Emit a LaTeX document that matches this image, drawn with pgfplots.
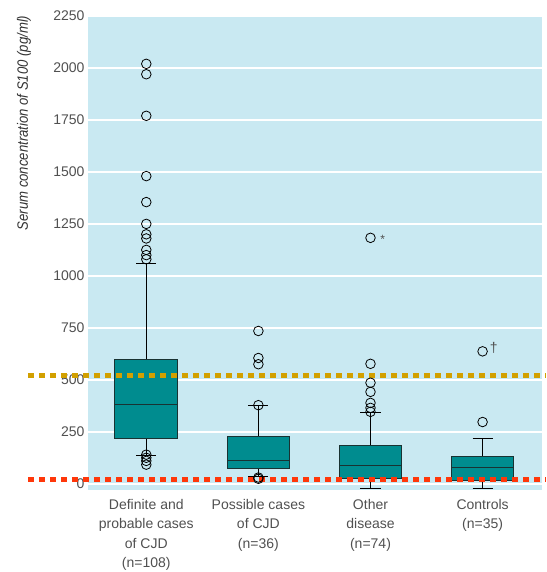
\documentclass[border=0pt]{standalone}
\usepackage{fontspec}
\setmainfont{Liberation Sans}
\newfontfamily\ylabfont[FakeStretch=0.875]{Liberation Sans}
\usepackage{pgfplots}
\pgfplotsset{compat=1.18}
\definecolor{bgblue}{RGB}{201,233,242}
\definecolor{boxteal}{RGB}{0,140,143}
\definecolor{goldline}{RGB}{210,160,0}
\definecolor{redline}{RGB}{255,55,10}
\definecolor{txtgray}{RGB}{80,80,80}
\definecolor{boxedge}{RGB}{25,50,50}
\pgfplotsset{
  mybox/.style={draw=boxedge, line width=1pt, fill=boxteal, mark=none},
  mywhisk/.style={draw=black, line width=1pt, mark=none, unbounded coords=jump},
  myout/.style={only marks, mark=o, mark size=4.8pt, mark options={fill=white, draw=black, line width=0.8pt}},
}
\begin{document}
\begin{tikzpicture}
\useasboundingbox (-88pt,-82pt) rectangle (458pt,490pt);
\begin{axis}[at={(0pt,0pt)}, anchor=south west, scale only axis,
  width=454pt, height=475pt,
  xmin=0.48, xmax=4.53, ymin=-30, ymax=2255,
  axis background/.style={fill=bgblue},
  axis line style={draw=none},
  major tick length=0pt,
  ytick={0,250,...,2250},
  ymajorgrids, grid style={white, line width=2pt},
  xtick={1,2,3,4},
  xticklabels={{Definite and\\probable cases\\of CJD\\(n=108)},{Possible cases\\of CJD\\(n=36)},{Other\\disease\\(n=74)},{Controls\\(n=35)}},
  tick label style={font=\fontsize{14}{19.3}\selectfont, text=txtgray},
  xticklabel style={align=center, yshift=-6pt},
  /pgf/number format/assume math mode=true,
  /pgf/number format/1000 sep={},
  ylabel={Serum concentration of S100 (pg/ml)},
  ylabel style={font=\ylabfont\itshape\fontsize{15}{17}\selectfont, text=black!80, at={(axis description cs:-0.141,1.006)}, anchor=east},
  clip=false,
]
% whiskers and caps
\addplot[mywhisk] coordinates {(1,600) (1,1060) (1,nan) (0.91,1060) (1.09,1060) (1,nan) (1,216) (1,135) (1,nan) (0.91,135) (1.09,135)};
\addplot[mywhisk] coordinates {(2,228) (2,375) (2,nan) (1.91,375) (2.09,375) (2,nan) (2,75) (2,35) (2,nan) (1.91,35) (2.09,35)};
\addplot[mywhisk] coordinates {(3,185) (3,341) (3,nan) (2.91,341) (3.09,341) (3,nan) (3,26) (3,-25) (3,nan) (2.91,-25) (3.09,-25)};
\addplot[mywhisk] coordinates {(4,132) (4,216) (4,nan) (3.91,216) (4.09,216) (4,nan) (4,16) (4,-25) (4,nan) (3.91,-25) (4.09,-25)};
% boxes (lower quartile to upper quartile)
\addplot[mybox] coordinates {(0.72,216) (1.28,216) (1.28,600) (0.72,600) (0.72,216)};
\addplot[mybox] coordinates {(1.72,75) (2.28,75) (2.28,228) (1.72,228) (1.72,75)};
\addplot[mybox] coordinates {(2.72,26) (3.28,26) (3.28,185) (2.72,185) (2.72,26)};
\addplot[mybox] coordinates {(3.72,16) (4.28,16) (4.28,132) (3.72,132) (3.72,16)};
% medians
\addplot[mywhisk, draw=boxedge] coordinates {(0.72,380) (1.28,380)};
\addplot[mywhisk, draw=boxedge] coordinates {(1.72,112) (2.28,112)};
\addplot[mywhisk, draw=boxedge] coordinates {(2.72,90) (3.28,90)};
\addplot[mywhisk, draw=boxedge] coordinates {(3.72,80) (4.28,80)};
% outliers
\addplot[myout] coordinates {(1,2020) (1,1970) (1,1770) (1,1480) (1,1355) (1,1250) (1,1200) (1,1180) (1,1125) (1,1100) (1,1080) (1,140) (1,125) (1,110) (1,92)};
\addplot[myout] coordinates {(2,735) (2,605) (2,575) (2,378) (2,30) (2,24)};
\addplot[myout] coordinates {(3,1183) (3,577) (3,486) (3,442) (3,389) (3,365) (3,346)};
\addplot[myout] coordinates {(4,637) (4,297)};
% reference lines
\addplot[goldline, line width=5pt, dash pattern=on 5.5pt off 5.5pt] coordinates {(-0.055,520) (4.566,520)};
\addplot[redline, line width=5pt, dash pattern=on 5.5pt off 5.5pt] coordinates {(-0.055,20) (4.566,20)};
\node[font=\fontsize{12}{12}\selectfont, text=txtgray] at (axis cs:3.11,1175) {*};
\node[font=\fontsize{14}{14}\selectfont, text=txtgray] at (axis cs:4.1,655) {†};
\end{axis}
\end{tikzpicture}
\end{document}
